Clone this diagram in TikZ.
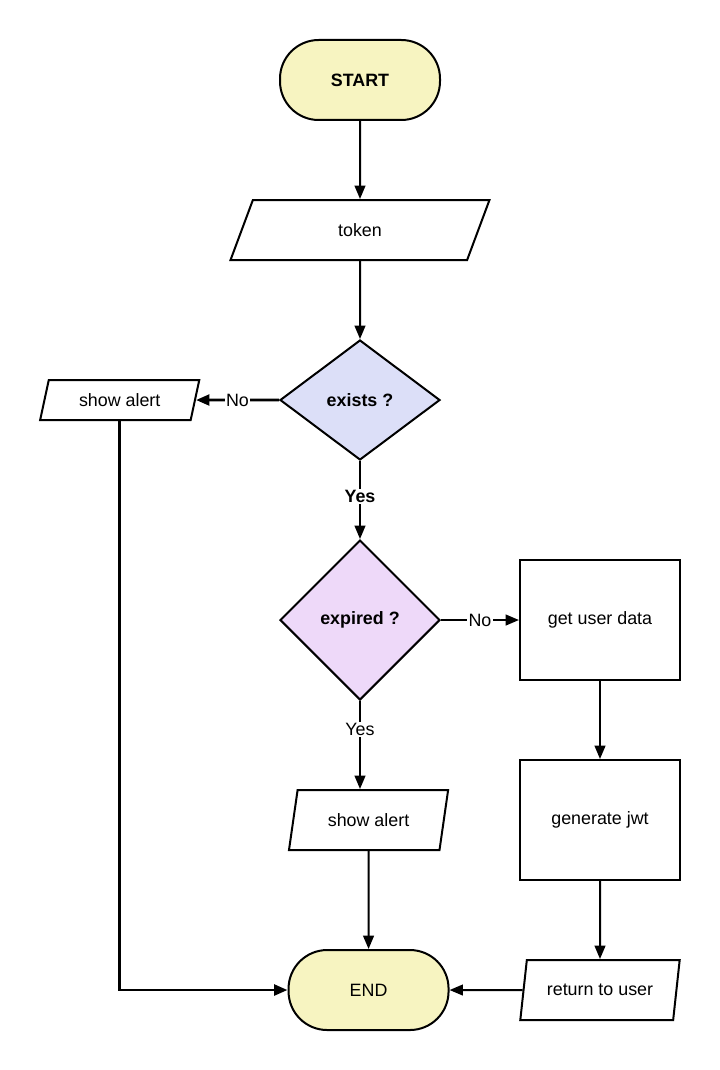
\documentclass[tikz,border=0pt]{standalone}
\usepackage{fontspec}
\setmainfont{Liberation Sans}
\usetikzlibrary{shapes.geometric, arrows.meta, positioning}
\definecolor{termyellow}{HTML}{F7F4C1}
\definecolor{existsblue}{HTML}{DCDFF8}
\definecolor{expiredpurple}{HTML}{EED9F9}

\begin{document}
\begin{tikzpicture}[
    node distance=58.5pt,
    every node/.style={font=\fontsize{13.4}{16}\selectfont},
    terminal/.style={draw, line width=1.5pt, fill=termyellow, rectangle, rounded corners=29pt, minimum width=120pt, minimum height=60pt},
    io/.style={draw, line width=1.5pt, fill=white, trapezium, trapezium left angle=76, trapezium right angle=104, trapezium stretches=true, minimum width=120pt, minimum height=30pt},
    decision/.style={draw, line width=1.5pt, diamond, aspect=1, minimum width=120pt, minimum height=90pt, font=\fontsize{13.4}{16}\selectfont\bfseries},
    process/.style={draw, line width=1.5pt, rectangle, minimum width=120pt, minimum height=90pt},
    arrow/.style={line width=1.5pt, -{Triangle[length=10pt, width=8pt]}},
    lbl/.style={fill=white, inner sep=1pt}
]
\useasboundingbox (0,0) rectangle (540pt,-802.5pt);

\node (start) [terminal] at (270pt,-60pt) {\textbf{START}};
\node (token) [io, minimum width=195pt, minimum height=45pt, below=of start] {token};
\node (exists) [decision, fill=existsblue, below=of token] {exists ?};
\node (alertleft) [io, left=62.25pt of exists] {show alert};
\node (expired) [decision, fill=expiredpurple, minimum height=120pt, below=of exists] {expired ?};
\node (userdata) [process, right=of expired] {get user data};
\node (genjwt) [process, below=of userdata] {generate jwt};
\node (touser) [io, minimum height=45pt, below=of genjwt] {return to user};
\node (finish) [terminal, left=54.75pt of touser] {END};
\node (alertmid) [io, minimum height=45pt, above=73.5pt of finish] {show alert};

\draw [arrow] (start) -- (token);
\draw [arrow] (token) -- (exists);
\draw [arrow] (exists) -- node[lbl, pos=0.46, font=\fontsize{13.4}{16}\selectfont\bfseries] {Yes} (expired);
\draw [arrow, line width=2.2pt] (exists) -- node[lbl] {No} (alertleft);
\draw [arrow] (expired) -- node[lbl] {No} (userdata);
\draw [arrow] (expired.south) -- node[lbl, pos=0.32] {Yes} (expired.south |- alertmid.north);
\draw [arrow] (alertmid) -- (finish);
\draw [arrow] (userdata) -- (genjwt);
\draw [arrow] (genjwt) -- (touser);
\draw [arrow] (touser) -- (finish);
\draw [arrow, line width=2.2pt] (alertleft.south) |- (finish.west);

\end{tikzpicture}
\end{document}
